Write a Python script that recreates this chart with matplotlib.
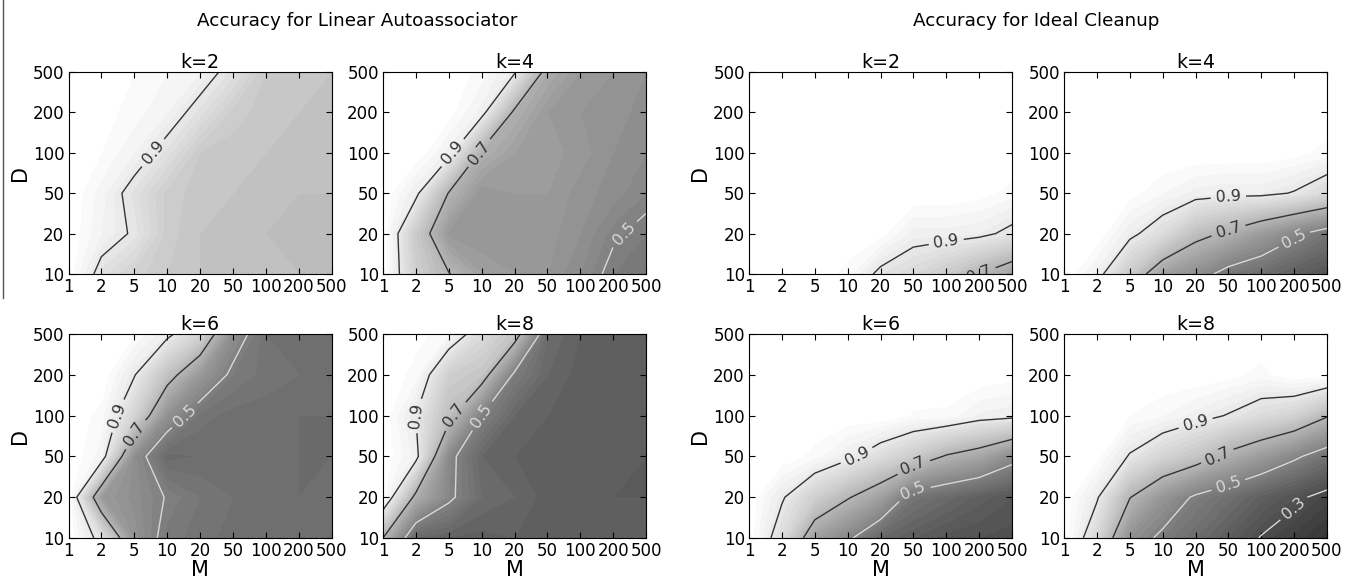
import numpy as np
import matplotlib
matplotlib.use("Agg")
from matplotlib import pyplot as plt
from matplotlib.lines import Line2D

# grid of the experiment
M_labels = ["1", "2", "5", "10", "20", "50", "100", "200", "500"]
D_labels = ["10", "20", "50", "100", "200", "500"]
k_values = [2, 4, 6, 8]

# accuracy, rows = D (10..500), cols = M (1..500)
lin_k2 = [
    [1.00, 0.87, 0.81, 0.78, 0.76, 0.75, 0.75, 0.74, 0.74],
    [1.00, 0.94, 0.89, 0.79, 0.76, 0.75, 0.74, 0.74, 0.73],
    [1.00, 0.95, 0.87, 0.79, 0.77, 0.76, 0.75, 0.74, 0.74],
    [1.00, 0.98, 0.94, 0.87, 0.78, 0.77, 0.76, 0.75, 0.75],
    [1.00, 0.99, 0.97, 0.94, 0.87, 0.79, 0.77, 0.76, 0.75],
    [1.00, 1.00, 0.98, 0.96, 0.94, 0.87, 0.78, 0.77, 0.76],
]
lin_k4 = [
    [1.00, 0.80, 0.705, 0.62, 0.60, 0.58, 0.54, 0.48, 0.46],
    [1.00, 0.78, 0.59, 0.58, 0.60, 0.59, 0.56, 0.51, 0.48],
    [1.00, 0.92, 0.695, 0.58, 0.60, 0.60, 0.57, 0.55, 0.52],
    [1.00, 1.00, 0.93, 0.68, 0.62, 0.61, 0.59, 0.56, 0.54],
    [1.00, 1.00, 0.99, 0.93, 0.68, 0.60, 0.58, 0.57, 0.55],
    [1.00, 1.00, 1.00, 0.97, 0.91, 0.66, 0.60, 0.58, 0.56],
]
lin_k6 = [
    [1.00, 0.87, 0.57, 0.47, 0.45, 0.43, 0.43, 0.44, 0.43],
    [1.00, 0.60, 0.55, 0.495, 0.46, 0.44, 0.43, 0.42, 0.43],
    [1.00, 0.95, 0.55, 0.41, 0.42, 0.43, 0.43, 0.42, 0.42],
    [1.00, 0.97, 0.82, 0.56, 0.45, 0.43, 0.43, 0.42, 0.42],
    [1.00, 1.00, 0.905, 0.75, 0.59, 0.48, 0.45, 0.44, 0.43],
    [1.00, 1.00, 0.98, 0.92, 0.82, 0.55, 0.44, 0.43, 0.42],
]
lin_k8 = [
    [0.70, 0.40, 0.38, 0.37, 0.38, 0.37, 0.38, 0.37, 0.37],
    [0.99, 0.67, 0.52, 0.42, 0.40, 0.37, 0.38, 0.36, 0.36],
    [1.00, 0.93, 0.53, 0.40, 0.38, 0.37, 0.36, 0.37, 0.36],
    [1.00, 0.90, 0.74, 0.50, 0.40, 0.38, 0.37, 0.37, 0.37],
    [1.00, 0.97, 0.80, 0.76, 0.48, 0.40, 0.37, 0.38, 0.37],
    [1.00, 0.99, 0.96, 0.85, 0.76, 0.42, 0.38, 0.38, 0.37],
]
ideal_k2 = [
    [1.00, 1.00, 1.00, 0.97, 0.88, 0.84, 0.78, 0.70, 0.62],
    [1.00, 1.00, 1.00, 1.00, 0.99, 0.93, 0.93, 0.92, 0.88],
    [1.00, 1.00, 1.00, 1.00, 1.00, 1.00, 1.00, 0.99, 0.97],
    [1.00, 1.00, 1.00, 1.00, 1.00, 1.00, 1.00, 1.00, 1.00],
    [1.00, 1.00, 1.00, 1.00, 1.00, 1.00, 1.00, 1.00, 1.00],
    [1.00, 1.00, 1.00, 1.00, 1.00, 1.00, 1.00, 1.00, 1.00],
]
ideal_k4 = [
    [1.00, 0.93, 0.78, 0.62, 0.55, 0.46, 0.42, 0.37, 0.33],
    [1.00, 1.00, 0.92, 0.85, 0.74, 0.68, 0.60, 0.52, 0.45],
    [1.00, 1.00, 0.99, 0.96, 0.93, 0.92, 0.92, 0.895, 0.84],
    [1.00, 1.00, 1.00, 1.00, 1.00, 1.00, 1.00, 0.99, 0.97],
    [1.00, 1.00, 1.00, 1.00, 1.00, 1.00, 1.00, 1.00, 1.00],
    [1.00, 1.00, 1.00, 1.00, 1.00, 1.00, 1.00, 1.00, 1.00],
]
ideal_k6 = [
    [1.00, 0.85, 0.62, 0.52, 0.40, 0.36, 0.33, 0.32, 0.31],
    [1.00, 0.91, 0.80, 0.71, 0.62, 0.45, 0.41, 0.37, 0.34],
    [1.00, 1.00, 0.97, 0.92, 0.85, 0.78, 0.69, 0.64, 0.54],
    [1.00, 1.00, 1.00, 1.00, 1.00, 0.977, 0.974, 0.935, 0.923],
    [1.00, 1.00, 1.00, 1.00, 1.00, 1.00, 1.00, 1.00, 0.99],
    [1.00, 1.00, 1.00, 1.00, 1.00, 1.00, 1.00, 1.00, 1.00],
]
ideal_k8 = [
    [1.00, 0.83, 0.56, 0.477, 0.42, 0.36, 0.295, 0.25, 0.21],
    [1.00, 0.91, 0.705, 0.58, 0.484, 0.43, 0.37, 0.32, 0.27],
    [1.00, 0.99, 0.893, 0.82, 0.76, 0.67, 0.60, 0.52, 0.44],
    [1.00, 1.00, 0.98, 0.96, 0.93, 0.895, 0.85, 0.81, 0.71],
    [1.00, 1.00, 1.00, 1.00, 1.00, 0.99, 0.97, 1.00, 0.99],
    [1.00, 1.00, 1.00, 1.00, 1.00, 1.00, 1.00, 1.00, 1.00],
]

linear_sets = [lin_k2, lin_k4, lin_k6, lin_k8]
ideal_sets = [ideal_k2, ideal_k4, ideal_k6, ideal_k8]

fill_levels = np.linspace(0, 1, 51)
line_levels = [0.3, 0.5, 0.7, 0.9]
line_colors = ["#d8d8d8", "#d8d8d8", "#333333", "#333333"]

W, H = 1354, 585
fig = plt.figure(figsize=(W / 100, H / 100), dpi=100)

col_left = [68.5, 383, 749, 1064]
row_top = [72, 334]
ax_w = 263
ax_h = [202, 204]

x = np.arange(len(M_labels))
y = np.arange(len(D_labels))


def panel(ax, data, k, left_col, bottom_row):
    Z = np.array(data)
    ax.contourf(x, y, Z, levels=fill_levels, cmap="gray", vmin=0, vmax=0.99)
    cs = ax.contour(x, y, Z, levels=line_levels, colors=line_colors,
                    linewidths=1.0)
    ax.clabel(cs, fmt="%.1f", fontsize=11.5, inline=True)
    ax.set_xlim(0, len(M_labels) - 1)
    ax.set_ylim(0, len(D_labels) - 1)
    ax.set_xticks(x)
    ax.set_xticklabels(M_labels)
    ax.set_yticks(y)
    ax.set_yticklabels(D_labels)
    ax.tick_params(direction="in", top=True, right=True, length=4,
                   labelsize=12, pad=3)
    ax.set_title("k=%d" % k, fontsize=13.7, pad=3)
    if left_col:
        ax.set_ylabel("D", fontsize=15, labelpad=2)
    if bottom_row:
        ax.set_xlabel("M", fontsize=15, labelpad=0)


for g, sets in enumerate([linear_sets, ideal_sets]):
    for i, data in enumerate(sets):
        r, c = divmod(i, 2)
        left = col_left[2 * g + c]
        top = row_top[r]
        ax = fig.add_axes([left / W, 1 - (top + ax_h[r]) / H,
                           ax_w / W, ax_h[r] / H])
        panel(ax, data, k_values[i], c == 0, r == 1)

fig.text(357 / W, 1 - 21 / H, "Accuracy for Linear Autoassociator",
         ha="center", va="center", fontsize=13.2)
fig.text(1036 / W, 1 - 21 / H, "Accuracy for Ideal Cleanup",
         ha="center", va="center", fontsize=13.2)

# thin border line on the left edge of the original figure
fig.add_artist(Line2D([3 / W, 3 / W], [1, 1 - 298 / H],
                      transform=fig.transFigure, color="#555555", lw=1))

plt.savefig("out.png", dpi=100)
